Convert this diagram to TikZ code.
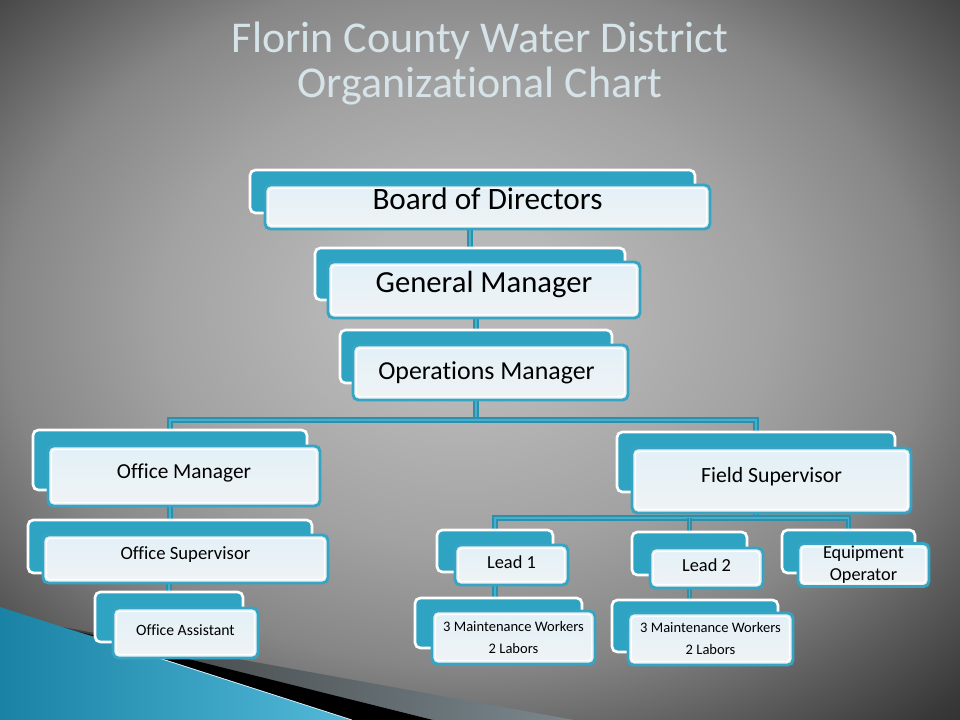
\documentclass[tikz,border=0pt]{standalone}
\usepackage{fontspec}
\setmainfont{Carlito}[Ligatures=NoCommon]
\usetikzlibrary{positioning,shapes}
\definecolor{tealbox}{HTML}{2FA3C2}
\definecolor{tealedge}{HTML}{36A4C3}
\definecolor{tealwire}{HTML}{2A90AC}
\definecolor{tealwirelt}{HTML}{45AFCC}
\definecolor{paleA}{HTML}{E2F0F7}
\definecolor{paleB}{HTML}{F0F3F5}
\definecolor{titlegray}{HTML}{D6E3E8}
\definecolor{bgA}{HTML}{B8B8B8}
\definecolor{bgB}{HTML}{A2A2A2}
\definecolor{bgC}{HTML}{868686}
\definecolor{bgD}{HTML}{5E5E5E}
\definecolor{bgE}{HTML}{383838}
\definecolor{bgF}{HTML}{181818}
\definecolor{bgG}{HTML}{080808}
\definecolor{tealdeep}{HTML}{1A82A4}
\definecolor{teallight}{HTML}{52B9D9}
\definecolor{stripegray}{HTML}{8FA0A7}
\pgfdeclareradialshading{slidebg}{\pgfpoint{-1bp}{4bp}}{color(0bp)=(bgA); color(6bp)=(bgA); color(16bp)=(bgB); color(24bp)=(bgC); color(30bp)=(bgD); color(36bp)=(bgE); color(44bp)=(bgF); color(75bp)=(bgG)}
\pgfdeclarelayer{bg}
\pgfdeclarelayer{wires}
\pgfsetlayers{bg,wires,main}

\begin{document}
\begin{tikzpicture}[x=0.75pt, y=-0.75pt,
	backbox/.style={draw=white, line width=2pt, fill=tealbox, rounded corners=4pt, outer sep=0pt, inner sep=0pt},
	frontbox/.style={draw=tealedge, line width=2.2pt, rounded corners=4pt, top color=paleA, bottom color=paleB, outer sep=0pt, inner sep=0pt, text=black,
		path picture={\draw[white, line width=1pt, rounded corners=2.5pt] ([shift={(2.6pt,-2.6pt)}]path picture bounding box.north west) rectangle ([shift={(-2.6pt,2.6pt)}]path picture bounding box.south east);}},
	wire/.style={draw=tealwire, double=tealwirelt, double distance=1.4pt, line width=1.2pt}]
	\useasboundingbox (0,0) rectangle (960,720);

	\begin{pgfonlayer}{bg}
		\shade[shading=slidebg] (0,0) rectangle (960,720);
		% stripes in the lower left corner
		\shade[left color=bgE, middle color=stripegray, right color=stripegray!85!black] (40,623) -- (574,720) -- (433,720) -- cycle;
		\fill[black] (80,632) -- (433,720) -- (352,720) -- cycle;
		\shade[left color=tealdeep, right color=teallight] (0,607) -- (352,720) -- (0,720) -- cycle;
		\draw[white!75!teallight, line width=0.6pt] (140,652) -- (352,720);
	\end{pgfonlayer}

	\node[text=titlegray, align=center, font=\fontsize{33}{33.75}\selectfont] (title) at (480,64) {Florin County Water District\\Organizational Chart};

	% top of the chart
	\node[backbox, minimum width=333.75pt, minimum height=32.25pt] (bodB) at (472.5,191.5) {};
	\node[frontbox, minimum width=333.75pt, minimum height=33pt, font=\fontsize{23.4}{28}\selectfont, text height=17.5pt, text depth=13pt] (bod) at (487.5,207) {Board of Directors};
	\node[backbox, minimum width=232.5pt, minimum height=39pt] (gmB) at (470,274) {};
	\node[frontbox, minimum width=234pt, minimum height=42pt, font=\fontsize{23}{28}\selectfont, text height=17.3pt, text depth=12.9pt] (gm) at (484,290) {General Manager};
	\node[backbox, minimum width=204pt, minimum height=39.75pt] (omB) at (476,356.5) {};
	\node[frontbox, minimum width=206.25pt, minimum height=41.25pt, font=\fontsize{19.4}{24}\selectfont, text height=14.6pt, text depth=4.3pt] (om) at (490.5,372.5) {\hspace*{-6pt}Operations Manager};

	% office side
	\node[backbox, minimum width=205.5pt, minimum height=45pt] (offmB) at (170,460) {};
	\node[frontbox, minimum width=204pt, minimum height=45pt, font=\fontsize{16}{20}\selectfont, text height=12pt, text depth=7.7pt] (offm) at (184,476) {Office Manager};
	\node[backbox, minimum width=213pt, minimum height=39.75pt] (offsB) at (170,546.5) {};
	\node[frontbox, minimum width=213.75pt, minimum height=36pt, font=\fontsize{14}{17}\selectfont, text height=10.5pt, text depth=10.5pt] (offs) at (185.5,559) {Office Supervisor};
	\node[backbox, minimum width=111pt, minimum height=37.5pt] (offaB) at (169,617) {};
	\node[frontbox, minimum width=108.75pt, minimum height=37.5pt, font=\fontsize{11.8}{14}\selectfont, text height=8.9pt, text depth=5.75pt] (offa) at (185.5,633) {Office Assistant};

	% field side
	\node[backbox, minimum width=208.5pt, minimum height=45pt] (fsB) at (756,462) {};
	\node[frontbox, minimum width=209.25pt, minimum height=48.75pt, font=\fontsize{16.3}{20}\selectfont, text height=12.2pt, text depth=9.9pt] (fs) at (771.5,480.5) {Field Supervisor};
	\node[backbox, minimum width=87pt, minimum height=31.5pt] (lead1B) at (495,551) {};
	\node[frontbox, minimum width=84.75pt, minimum height=30pt, font=\fontsize{13.8}{17}\selectfont, text height=10.4pt, text depth=4.5pt] (lead1) at (511.5,565) {Lead 1};
	\node[backbox, minimum width=86.25pt, minimum height=32.25pt] (lead2B) at (689.5,553.5) {};
	\node[frontbox, minimum width=84.75pt, minimum height=30pt, font=\fontsize{13.8}{17}\selectfont, text height=10.4pt, text depth=4.5pt] (lead2) at (706.5,568) {Lead 2};
	\node[backbox, minimum width=99.75pt, minimum height=32.25pt] (equipB) at (848.5,551.5) {};
	\node[frontbox, minimum width=98.25pt, minimum height=32.25pt, align=center, font=\fontsize{13.7}{16.5}\selectfont] (equip) at (863.5,565) {Equipment\\Operator};
	\node[backbox, minimum width=125.25pt, minimum height=37.5pt] (mw1B) at (498.5,623) {};
	\node[frontbox, minimum width=122.25pt, minimum height=39.75pt, align=center, font=\fontsize{10.9}{16.5}\selectfont] (mw1) at (513.5,637.5) {3 Maintenance Workers\\2 Labors};
	\node[backbox, minimum width=124.5pt, minimum height=39pt] (mw2B) at (695,626) {};
	\node[frontbox, minimum width=123.75pt, minimum height=39pt, align=center, font=\fontsize{10.9}{16.5}\selectfont] (mw2) at (710.5,639) {3 Maintenance Workers\\2 Labors};

	\coordinate (busOM) at (476,420);
	\coordinate (busFS) at (756,518);
	\begin{pgfonlayer}{wires}
		\draw[wire] (gmB.north) -- (gmB.north |- bodB.south);
		\draw[wire] (omB.north) -- (omB.north |- gmB.south);
		\draw[wire] (omB.south) -- (busOM);
		\draw[wire] (offmB.north) |- (busOM) -| (fsB.north);
		\draw[wire] (offmB.south) -- (offsB.north);
		\draw[wire] (offaB.north) -- (offaB.north |- offsB.south);
		\draw[wire] (fsB.south) -- (busFS);
		\draw[wire] (lead1B.north) |- (busFS) -| (equipB.north);
		\draw[wire] (lead2B.north) -- (lead2B.north |- busFS);
		\draw[wire] (lead1B.south) -- (lead1B.south |- mw1B.north);
		\draw[wire] (lead2B.south) -- (lead2B.south |- mw2B.north);
	\end{pgfonlayer}
\end{tikzpicture}
\end{document}
